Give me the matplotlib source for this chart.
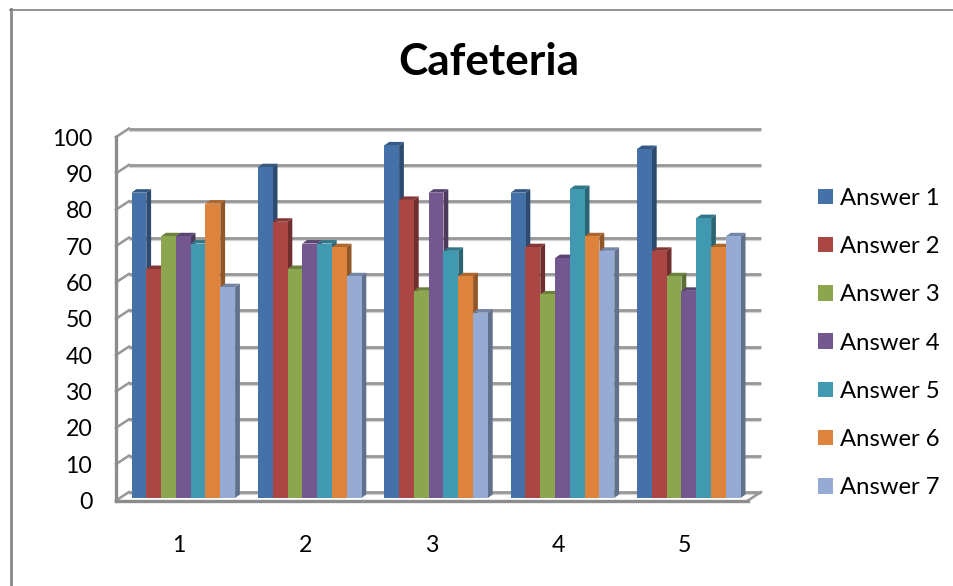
import matplotlib
matplotlib.use("Agg")
import matplotlib.pyplot as plt
from matplotlib.colors import to_rgb
from matplotlib.lines import Line2D
from matplotlib.patches import Polygon
from matplotlib.transforms import Affine2D

plt.rcParams['font.family'] = ['Lato', 'DejaVu Sans']

title = "Cafeteria"
categories = [1, 2, 3, 4, 5]
answer_1 = [84, 91, 97, 84, 96]
answer_2 = [63, 76, 82, 69, 68]
answer_3 = [72, 63, 57, 56, 61]
answer_4 = [72, 70, 84, 66, 57]
answer_5 = [70, 70, 68, 85, 77]
answer_6 = [81, 69, 61, 72, 69]
answer_7 = [58, 61, 51, 68, 72]
series_names = ["Answer 1", "Answer 2", "Answer 3", "Answer 4",
                "Answer 5", "Answer 6", "Answer 7"]
series_values = [answer_1, answer_2, answer_3, answer_4,
                 answer_5, answer_6, answer_7]
series_colors = ["#4472A8", "#AA4644", "#8BA64E", "#73578F",
                 "#4099B0", "#DD833B", "#95ABD3"]
y_ticks = list(range(0, 101, 10))

W, H = 954, 586
DPI = 100
AX_LEFT, AX_RIGHT, AX_FRONT_BASE, AX_FRONT_TOP = 116, 748, 500.5, 137

fig = plt.figure(figsize=(W / DPI, H / DPI), dpi=DPI, facecolor="white")
ax = fig.add_axes([AX_LEFT / W, 1 - AX_FRONT_BASE / H,
                   (AX_RIGHT - AX_LEFT) / W,
                   (AX_FRONT_BASE - AX_FRONT_TOP) / H])
ax.set_xlim(0.5, 5.5)
ax.set_ylim(0, 100)
ax.set_facecolor("none")

px_x = 5 / (AX_RIGHT - AX_LEFT)           # one pixel along x, in data units
px_y = 100 / (AX_FRONT_BASE - AX_FRONT_TOP)  # one pixel along y, in data units


def darker(color, factor):
    return tuple(c * factor for c in to_rgb(color))


# Back wall and side wall of the 3-D box
GRID = "#979797"
SHADOW = "#d4d4d4"
wall_dx, wall_dy = 13 * px_x, 8.5 * px_y
for v in y_ticks:
    ax.plot([0.5 + wall_dx, 5.5 + wall_dx], [v + wall_dy - 0.6] * 2,
            color=SHADOW, lw=1.6, clip_on=False, zorder=1, solid_capstyle="butt")
    ax.plot([0.5 + wall_dx, 5.5 + wall_dx], [v + wall_dy] * 2,
            color=GRID, lw=2.0, clip_on=False, zorder=1.1, solid_capstyle="butt")
    ax.plot([0.5, 0.5 + wall_dx], [v, v + wall_dy],
            color=GRID, lw=1.8, clip_on=False, zorder=1.1)
ax.plot([5.5, 5.5 + wall_dx], [0, wall_dy], color=GRID, lw=1.8,
        clip_on=False, zorder=1.1)

for side in ("top", "right"):
    ax.spines[side].set_visible(False)
for side in ("left", "bottom"):
    ax.spines[side].set_color("#8c8c8c")
    ax.spines[side].set_linewidth(2.4)

# Bars: front face plus shaded side and top, lifted slightly off the floor line
lift = Affine2D().translate(0, 2.5)
bar_trans = ax.transData + lift
bar_w = 14.8 * px_x
group_start = 131.5
depth_x, depth_y = 4.8 * px_x, 3.5 * px_y
for i, cat in enumerate(categories):
    x0 = cat - 0.5 + (group_start - AX_LEFT) * px_x
    for j, (name, vals, col) in enumerate(zip(series_names, series_values, series_colors)):
        x = x0 + j * bar_w
        v = vals[i]
        z = 2 + i + j * 0.05
        ax.add_patch(Polygon([(x + bar_w, 0), (x + bar_w + depth_x, depth_y),
                              (x + bar_w + depth_x, v + depth_y), (x + bar_w, v)],
                             closed=True, fc=darker(col, 0.66), ec="none",
                             transform=bar_trans, zorder=z, clip_on=False))
        ax.add_patch(Polygon([(x, v), (x + depth_x, v + depth_y),
                              (x + bar_w + depth_x, v + depth_y), (x + bar_w, v)],
                             closed=True, fc=darker(col, 0.78), ec="none",
                             transform=bar_trans, zorder=z + 0.01, clip_on=False))
        ax.bar(x, v, width=bar_w, align="edge", color=col, linewidth=0,
               label=name if i == 0 else None, transform=bar_trans,
               zorder=z + 0.02, clip_on=False)

ax.set_xlim(0.5, 5.5)
ax.set_ylim(0, 100)
ax.set_xticks(categories)
ax.set_yticks(y_ticks)
ax.tick_params(axis="both", length=0, labelsize=16.7, colors="black")
ax.tick_params(axis="x", pad=25)
ax.tick_params(axis="y", pad=17)

fig.text(489 / W, 1 - 62 / H, title, ha="center", va="center",
         fontsize=31.8, fontweight="bold", color="black")

ax.legend(loc="center left", bbox_to_anchor=(818 / W, 1 - 343 / H),
          bbox_transform=fig.transFigure, frameon=False, fontsize=17.2,
          handlelength=0.63, handleheight=0.63, handletextpad=0.29,
          labelspacing=1.14, borderpad=0, borderaxespad=0)

# Frame line along the left and top of the sheet
fig.add_artist(Line2D([11 / W, 11 / W], [0, 1 - 9 / H],
                      color="#8a8a8a", lw=2.0, transform=fig.transFigure))
fig.add_artist(Line2D([10 / W, 1], [1 - 9.5 / H, 1 - 9.5 / H],
                      color="#808080", lw=1.2, transform=fig.transFigure))

fig.savefig("out.png", dpi=DPI, facecolor="white")
